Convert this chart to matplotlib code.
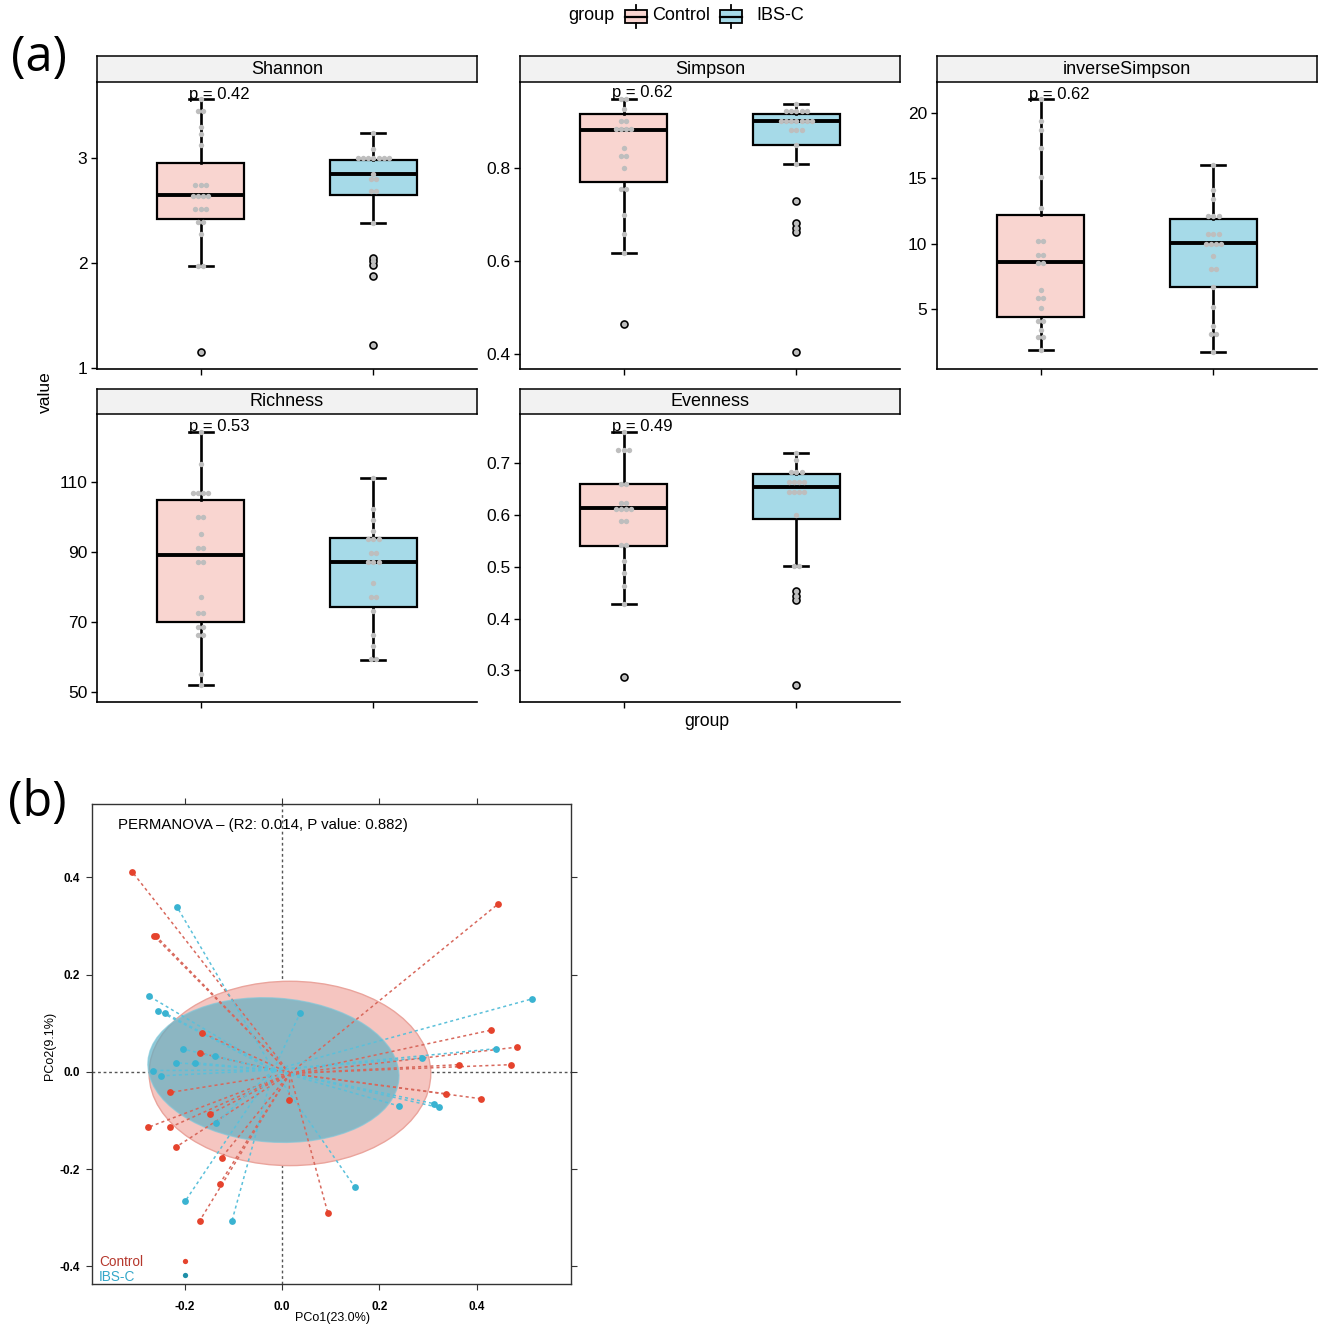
import matplotlib
matplotlib.use('Agg')
import matplotlib.pyplot as plt
import numpy as np
from matplotlib.patches import Rectangle, Ellipse
import matplotlib.transforms as mtransforms
from matplotlib.ticker import FormatStrFormatter

plt.rcParams['font.family'] = ['Liberation Sans', 'DejaVu Sans']
plt.rcParams['axes.unicode_minus'] = False

# ---------------- DATA ----------------
groups = ['Control', 'IBS-C']
metrics = ['Shannon', 'Simpson', 'inverseSimpson', 'Richness', 'Evenness']
p_values = ['0.42', '0.62', '0.62', '0.53', '0.49']

# sample values (gray dots)
shannon_control = [3.56, 3.45, 3.45, 3.30, 3.23, 3.12, 2.74, 2.74, 2.74, 2.64, 2.64, 2.64, 2.64,
                   2.51, 2.51, 2.51, 2.39, 2.39, 2.28, 1.97, 1.97, 1.15]
shannon_ibsc = [3.235, 3.09, 3.00, 3.00, 3.00, 3.00, 3.00, 3.00, 3.00, 2.85, 2.80, 2.80,
                2.69, 2.69, 2.385, 2.05, 2.015, 1.98, 1.88, 1.22]
simpson_control = [0.947, 0.947, 0.926, 0.900, 0.900, 0.883, 0.883, 0.883, 0.883, 0.843,
                   0.825, 0.825, 0.800, 0.753, 0.753, 0.698, 0.657, 0.617, 0.464]
simpson_ibsc = [0.937, 0.922, 0.922, 0.922, 0.922, 0.922, 0.900, 0.900, 0.900, 0.900, 0.900,
                0.900, 0.900, 0.881, 0.881, 0.881, 0.849, 0.807, 0.728, 0.680, 0.671, 0.662, 0.403]
invsimpson_control = [21.07, 19.41, 18.72, 17.36, 15.11, 12.76, 10.18, 10.18, 9.11, 9.11,
                      8.54, 8.54, 6.45, 5.81, 5.81, 5.05, 4.10, 4.10, 3.38, 2.82, 2.82, 1.85]
invsimpson_ibsc = [16.04, 14.12, 13.43, 12.15, 12.15, 12.15, 10.72, 10.72, 10.72, 9.98, 9.98,
                   9.98, 9.98, 9.08, 8.06, 8.06, 6.70, 5.17, 3.69, 3.05, 3.05, 1.67]
richness_control = [124.3, 115.1, 106.7, 106.7, 106.7, 106.7, 100.0, 100.0, 95.1, 91.1, 91.1,
                    87.1, 87.1, 77.1, 72.6, 72.6, 68.6, 68.6, 66.2, 66.2, 55.0, 51.9]
richness_ibsc = [111.1, 102.1, 99.1, 96.0, 93.5, 93.5, 93.5, 89.5, 89.5, 87.1, 87.1, 87.1,
                 81.1, 77.1, 77.1, 73.1, 66.2, 63.1, 59.3, 59.3]
evenness_control = [0.761, 0.725, 0.725, 0.725, 0.659, 0.659, 0.624, 0.624, 0.611, 0.611,
                    0.611, 0.611, 0.589, 0.589, 0.542, 0.542, 0.511, 0.488, 0.463, 0.428, 0.287]
evenness_ibsc = [0.720, 0.706, 0.683, 0.683, 0.683, 0.664, 0.664, 0.664, 0.664, 0.645, 0.645,
                 0.645, 0.645, 0.600, 0.502, 0.502, 0.453, 0.444, 0.436, 0.272]

# box statistics: [lower whisker, Q1, median, Q3, upper whisker]
shannon_box = [[1.97, 2.42, 2.65, 2.95, 3.56], [2.385, 2.645, 2.85, 2.98, 3.235]]
shannon_fliers = [[1.15], [2.05, 2.015, 1.98, 1.88, 1.22]]
simpson_box = [[0.617, 0.770, 0.881, 0.915, 0.947], [0.807, 0.849, 0.900, 0.915, 0.937]]
simpson_fliers = [[0.464], [0.728, 0.680, 0.671, 0.662, 0.403]]
invsimpson_box = [[1.85, 4.40, 8.57, 12.18, 21.07], [1.67, 6.70, 10.08, 11.89, 16.04]]
invsimpson_fliers = [[], []]
richness_box = [[51.9, 69.8, 89.1, 104.6, 124.3], [59.1, 74.1, 87.1, 94.0, 111.1]]
richness_fliers = [[], []]
evenness_box = [[0.428, 0.540, 0.613, 0.660, 0.761], [0.502, 0.592, 0.654, 0.679, 0.720]]
evenness_fliers = [[0.287], [0.453, 0.444, 0.436, 0.272]]

# PCoA coordinates
pcoa_control_x = [-0.307, -0.263, -0.259, 0.443, 0.429, 0.482, 0.469, 0.363, 0.337, 0.408,
                  -0.165, -0.169, -0.229, -0.147, 0.014, -0.275, -0.230, -0.217, -0.124,
                  -0.128, -0.169, 0.094]
pcoa_control_y = [0.411, 0.280, 0.280, 0.345, 0.086, 0.051, 0.015, 0.015, -0.045, -0.055,
                  0.081, 0.039, -0.042, -0.086, -0.058, -0.114, -0.114, -0.154, -0.176,
                  -0.230, -0.306, -0.290]
pcoa_ibsc_x = [-0.216, -0.273, -0.255, -0.240, 0.037, 0.512, 0.440, 0.288, -0.203, -0.138,
               -0.217, -0.178, -0.265, -0.248, 0.240, 0.311, 0.322, -0.135, 0.149, -0.199,
               -0.103]
pcoa_ibsc_y = [0.340, 0.156, 0.126, 0.121, 0.121, 0.150, 0.048, 0.029, 0.047, 0.033, 0.019,
               0.019, 0.003, -0.008, -0.070, -0.065, -0.073, -0.105, -0.236, -0.266, -0.307]
ellipse_width = [0.578, 0.516]
ellipse_height = [0.379, 0.296]
ellipse_angle = [0.0, -4.0]
permanova_r2 = '0.014'
permanova_p = '0.882'
pc1_label = 'PCo1(23.0%)'
pc2_label = 'PCo2(9.1%)'

# ---------------- STYLE ----------------
box_colors = ['#F9D5D0', '#A6DAE8']
pt_colors = ['#E5432D', '#3AB3D1']
line_colors = ['#D8685C', '#5BC0DA']
legend_text_colors = ['#B5372C', '#35A7C9']
legend_dot_colors = ['#E5432D', '#1E8FA8']

W, H = 1325, 1335
fig = plt.figure(figsize=(W / 100, H / 100), dpi=100)


def fax(x0, y0, x1, y1):
    return fig.add_axes([x0 / W, 1 - y1 / H, (x1 - x0) / W, (y1 - y0) / H])


def dot_xy(values, center, step=0.03):
    xs, ys, seen = [], [], []
    for v in values:
        if v not in seen:
            seen.append(v)
    for u in seen:
        n = values.count(u)
        for k in range(n):
            xs.append(center + (k - (n - 1) / 2) * step)
            ys.append(u)
    return xs, ys


facet_data = [
    (shannon_control, shannon_ibsc, shannon_box, shannon_fliers, (0.99, 3.724), [1, 2, 3]),
    (simpson_control, simpson_ibsc, simpson_box, simpson_fliers, (0.367, 0.984), [0.4, 0.6, 0.8]),
    (invsimpson_control, invsimpson_ibsc, invsimpson_box, invsimpson_fliers, (0.39, 22.4), [5, 10, 15, 20]),
    (richness_control, richness_ibsc, richness_box, richness_fliers, (47.06, 129.3), [50, 70, 90, 110]),
    (evenness_control, evenness_ibsc, evenness_box, evenness_fliers, (0.239, 0.795), [0.3, 0.4, 0.5, 0.6, 0.7]),
]
cols = [(97, 477), (520, 900), (937, 1317), (97, 477), (520, 900)]
rows = [(56, 82, 369), (56, 82, 369), (56, 82, 369), (389, 414, 702), (389, 414, 702)]
p_y = [0.958, 0.965, 0.958, 0.955, 0.955]

for i, (name, pv, fd, (cx0, cx1), (sy0, sy1, py1)) in enumerate(zip(metrics, p_values, facet_data, cols, rows)):
    vc, vi, boxes, fliers, ylim, yticks = fd
    ax = fax(cx0, sy1, cx1, py1)
    sax = fax(cx0, sy0, cx1, sy1)
    ax.set_xlim(0.4, 2.6)
    ax.set_ylim(*ylim)
    stats = []
    for b, f in zip(boxes, fliers):
        stats.append(dict(whislo=b[0], q1=b[1], med=b[2], q3=b[3], whishi=b[4], fliers=f))
    bp = ax.bxp(stats, positions=[1, 2], widths=0.5, capwidths=0.14, patch_artist=True,
                boxprops=dict(linewidth=1.6, edgecolor='black'),
                medianprops=dict(color='black', linewidth=2.8, solid_capstyle='butt'),
                whiskerprops=dict(color='black', linewidth=1.9),
                capprops=dict(color='black', linewidth=1.9),
                flierprops=dict(marker='o', markerfacecolor='black', markeredgecolor='black',
                                markersize=5.2, linestyle='none'))
    for patch, c in zip(bp['boxes'], box_colors):
        patch.set_facecolor(c)
    for gi, vals in enumerate([vc, vi]):
        xs, ys = dot_xy(vals, gi + 1)
        ax.scatter(xs, ys, s=15, color='#BEBEBE', linewidths=0, zorder=6)
    ax.set_yticks(yticks)
    ax.set_yticklabels([f'{t:g}' for t in yticks])
    ax.set_xticks([1, 2])
    ax.set_xticklabels(['', ''])
    for s in ['top', 'right']:
        ax.spines[s].set_visible(False)
    for s in ['left', 'bottom']:
        ax.spines[s].set_linewidth(1.2)
        ax.spines[s].set_color('black')
    ax.tick_params(axis='both', length=4, width=1.0, color='black', labelsize=12.5, pad=3)
    trans = mtransforms.blended_transform_factory(ax.transData, ax.transAxes)
    ax.text(0.93, p_y[i], f'p = {pv}', transform=trans, ha='left', va='center', fontsize=12, zorder=7)
    # strip
    sax.set_facecolor('#F2F2F2')
    sax.set_xticks([])
    sax.set_yticks([])
    for s in sax.spines.values():
        s.set_linewidth(1.1)
        s.set_color('black')
    sax.text(0.5, 0.48, name, transform=sax.transAxes, ha='center', va='center', fontsize=13)

# ---------------- PCoA panel ----------------
bx = fax(92, 804, 571, 1284)
bx.set_xlim(-0.390, 0.593)
bx.set_ylim(-0.436, 0.551)
bx.axhline(0, color='#555555', linestyle=(0, (2, 2)), linewidth=1.0, zorder=1)
bx.axvline(0, color='#555555', linestyle=(0, (2, 2)), linewidth=1.0, zorder=1)

pc_sets = [(pcoa_control_x, pcoa_control_y), (pcoa_ibsc_x, pcoa_ibsc_y)]
ell_faces = ['#F5C5C0', '#5AAFC4']
ell_edges = ['#EAA49C', '#7FC6D8']
ell_alpha = [1.0, 0.68]
centroids = []
for gi, (xs, ys) in enumerate(pc_sets):
    cx, cy = float(np.mean(xs)), float(np.mean(ys))
    centroids.append((cx, cy))
    e = Ellipse((cx, cy), ellipse_width[gi], ellipse_height[gi], angle=ellipse_angle[gi],
                facecolor=ell_faces[gi], edgecolor=ell_edges[gi], alpha=ell_alpha[gi],
                linewidth=1.0, zorder=2 + gi)
    bx.add_patch(e)
for gi, (xs, ys) in enumerate(pc_sets):
    cx, cy = centroids[gi]
    for x, y in zip(xs, ys):
        bx.plot([cx, x], [cy, y], color=line_colors[gi], linestyle=(0, (2, 2)),
                linewidth=1.1, zorder=4)
for gi, (xs, ys) in enumerate(pc_sets):
    bx.scatter(xs, ys, s=24, color=pt_colors[gi], linewidths=0, zorder=5)

bx.set_xticks([-0.2, 0.0, 0.2, 0.4])
bx.set_yticks([-0.4, -0.2, 0.0, 0.2, 0.4])
bx.xaxis.set_major_formatter(FormatStrFormatter('%.1f'))
bx.yaxis.set_major_formatter(FormatStrFormatter('%.1f'))
bx.tick_params(axis='both', direction='out', top=True, right=True, length=4, width=0.8,
               labelsize=8.5, color='#333333')
bx.tick_params(axis='x', pad=8)
bx.tick_params(axis='y', pad=5)
for lab in bx.get_xticklabels() + bx.get_yticklabels():
    lab.set_fontweight('bold')
for s in bx.spines.values():
    s.set_linewidth(1.0)
    s.set_color('#333333')
bx.text(0.054, 0.956, f'PERMANOVA \u2013 (R2: {permanova_r2}, P value: {permanova_p})',
        transform=bx.transAxes, ha='left', va='center', fontsize=10.8)

# legend (text left-aligned, key dot to the right)
leg_text_y = [0.046, 0.015]
leg_dot_y = [0.048, 0.019]
for gi in range(2):
    bx.text(0.0146, leg_text_y[gi], groups[gi], transform=bx.transAxes, ha='left', va='center',
            fontsize=9.8, color=legend_text_colors[gi], zorder=6)
    bx.plot([0.194], [leg_dot_y[gi]], marker='o', markersize=3.8, markeredgewidth=0,
            color=legend_dot_colors[gi], transform=bx.transAxes, clip_on=False, zorder=6)

# ---------------- overlay texts ----------------
ov = fig.add_axes([0, 0, 1, 1], zorder=-1)
ov.set_xlim(0, W)
ov.set_ylim(H, 0)
ov.axis('off')
ov.text(39, 58, '(a)', fontsize=35, ha='center', va='center', family=['Open Sans', 'DejaVu Sans'])
ov.text(37, 803, '(b)', fontsize=35, ha='center', va='center', family=['Open Sans', 'DejaVu Sans'])
ov.text(45, 392, 'value', rotation=90, fontsize=12.5, ha='center', va='center')
ov.text(707, 722, 'group', fontsize=12.7, ha='center', va='center')
ov.text(50, 1046, pc2_label, rotation=90, fontsize=9, ha='center', va='center')
ov.text(332, 1318, pc1_label, fontsize=9, ha='center', va='center')

# top legend
ov.text(568, 16, 'group', fontsize=13, ha='left', va='center')
key_x = [625, 720]
text_x = [652, 756]
for gi in range(2):
    kx = key_x[gi]
    ov.add_patch(Rectangle((kx, 10), 22, 13, facecolor=box_colors[gi], edgecolor='black', linewidth=1.3))
    ov.plot([kx, kx + 22], [16.5, 16.5], color='black', linewidth=1.6)
    ov.plot([kx + 11, kx + 11], [5, 10], color='black', linewidth=1.3)
    ov.plot([kx + 11, kx + 11], [23, 28], color='black', linewidth=1.3)
    ov.text(text_x[gi], 16, groups[gi], fontsize=13, ha='left', va='center')

fig.savefig('out.png', dpi=100)
